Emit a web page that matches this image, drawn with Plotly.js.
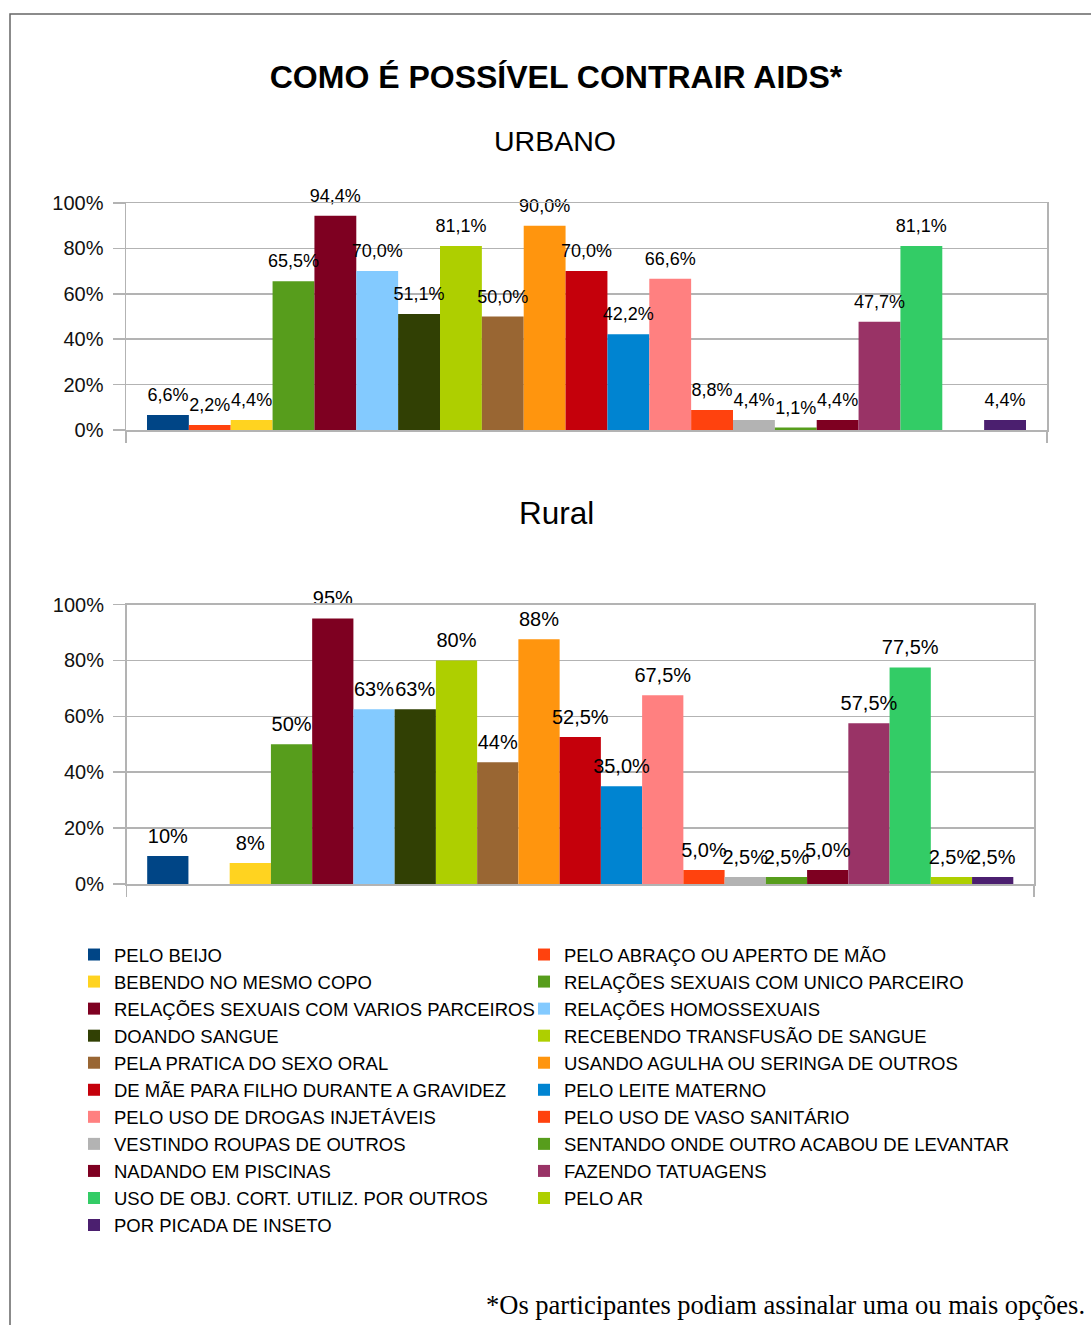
<!DOCTYPE html>
<html>
<head>
<meta charset="utf-8">
<script src="https://cdn.plot.ly/plotly-3.0.1.min.js"></script>
<style>html,body{margin:0;padding:0;background:#fff;}</style>
</head>
<body>
<div id="chart" style="width:1091px;height:1325px;"></div>
<script>
// ---------- data ----------
const categories = [
  'PELO BEIJO',
  'PELO ABRAÇO OU APERTO DE MÃO',
  'BEBENDO NO MESMO COPO',
  'RELAÇÕES SEXUAIS COM UNICO PARCEIRO',
  'RELAÇÕES SEXUAIS COM VARIOS PARCEIROS',
  'RELAÇÕES HOMOSSEXUAIS',
  'DOANDO SANGUE',
  'RECEBENDO TRANSFUSÃO DE SANGUE',
  'PELA PRATICA DO SEXO ORAL',
  'USANDO AGULHA OU SERINGA DE OUTROS',
  'DE MÃE PARA FILHO DURANTE A GRAVIDEZ',
  'PELO LEITE MATERNO',
  'PELO USO DE DROGAS INJETÁVEIS',
  'PELO USO DE VASO SANITÁRIO',
  'VESTINDO ROUPAS DE OUTROS',
  'SENTANDO ONDE OUTRO ACABOU DE LEVANTAR',
  'NADANDO EM PISCINAS',
  'FAZENDO TATUAGENS',
  'USO DE OBJ. CORT. UTILIZ. POR OUTROS',
  'PELO AR',
  'POR PICADA DE INSETO'
];
const colors = [
  '#004586', '#ff420e', '#ffd320', '#579d1c', '#7e0021', '#83caff', '#314004',
  '#aecf00', '#996633', '#ff950e', '#c5000b', '#0084d1', '#ff8080', '#ff420e',
  '#b3b3b3', '#579d1c', '#7e0021', '#993366', '#33cc66', '#aecf00', '#4b1f6f'
];
const urbanValues = [6.6, 2.2, 4.4, 65.5, 94.4, 70.0, 51.1, 81.1, 50.0, 90.0, 70.0, 42.2, 66.6, 8.8, 4.4, 1.1, 4.4, 47.7, 81.1, null, 4.4];
const urbanLabels = ['6,6%', '2,2%', '4,4%', '65,5%', '94,4%', '70,0%', '51,1%', '81,1%', '50,0%', '90,0%', '70,0%', '42,2%', '66,6%', '8,8%', '4,4%', '1,1%', '4,4%', '47,7%', '81,1%', '', '4,4%'];
const ruralValues = [10, null, 7.5, 50, 95, 62.5, 62.5, 80, 43.6, 87.6, 52.6, 35.0, 67.5, 5.0, 2.5, 2.5, 5.0, 57.5, 77.5, 2.5, 2.5];
const ruralLabels = ['10%', '', '8%', '50%', '95%', '63%', '63%', '80%', '44%', '88%', '52,5%', '35,0%', '67,5%', '5,0%', '2,5%', '2,5%', '5,0%', '57,5%', '77,5%', '2,5%', '2,5%'];
const urbanGroup = ['URBANO'];
const ruralGroup = ['Rural'];
const yTickVals = [0, 20, 40, 60, 80, 100];
const yTickText = ['0%', '20%', '40%', '60%', '80%', '100%'];

// ---------- helpers (pixel -> paper fraction) ----------
const W = 1091, H = 1325;
const px = v => v / W;
const py = v => 1 - v / H;
const FONT = 'Liberation Sans, Arial, sans-serif';

const traces = [];
// bars (urban carries the legend; two legend columns)
categories.forEach((name, i) => {
  traces.push({
    type: 'bar', name: name, x: urbanGroup, y: [urbanValues[i]],
    marker: {color: colors[i]}, xaxis: 'x', yaxis: 'y',
    legend: (i % 2 === 0) ? 'legend' : 'legend2',
    showlegend: true, hoverinfo: 'skip'
  });
});
categories.forEach((name, i) => {
  traces.push({
    type: 'bar', name: name, x: ruralGroup, y: [ruralValues[i]],
    marker: {color: colors[i]}, xaxis: 'x2', yaxis: 'y2',
    showlegend: false, hoverinfo: 'skip'
  });
});
// value labels, grouped like the bars
categories.forEach((name, i) => {
  traces.push({
    type: 'scatter', mode: 'markers+text', name: name, x: urbanGroup,
    y: [urbanValues[i] === null ? 0 : urbanValues[i]], text: [urbanLabels[i]],
    textposition: 'top center', textfont: {family: FONT, size: 18, color: '#000'},
    marker: {size: 13.6, opacity: 0}, cliponaxis: false,
    xaxis: 'x', yaxis: 'y', showlegend: false, hoverinfo: 'skip'
  });
});
categories.forEach((name, i) => {
  traces.push({
    type: 'scatter', mode: 'markers+text', name: name, x: ruralGroup,
    y: [ruralValues[i] === null ? 0 : ruralValues[i]], text: [ruralLabels[i]],
    textposition: 'top center', textfont: {family: FONT, size: 20, color: '#000'},
    marker: {size: 11.2, opacity: 0}, cliponaxis: false,
    xaxis: 'x2', yaxis: 'y2', showlegend: false, hoverinfo: 'skip'
  });
});

const xAxisStyle = {
  type: 'category', showticklabels: false, showline: true, linecolor: '#b3b3b3',
  linewidth: 1.5, mirror: true, ticks: 'outside', tickson: 'boundaries', ticklen: 11,
  tickcolor: '#b3b3b3', tickwidth: 1.5, showgrid: false, zeroline: false, fixedrange: true
};
const yAxisStyle = {
  range: [0, 100], tickmode: 'array', tickvals: yTickVals, ticktext: yTickText,
  showgrid: true, gridcolor: '#b3b3b3', gridwidth: 1.5, showline: true, linecolor: '#b3b3b3',
  linewidth: 1.5, mirror: true, ticks: 'outside', ticklen: 12, tickcolor: '#b3b3b3',
  tickwidth: 1.5, zeroline: false, fixedrange: true, ticklabelstandoff: 5,
  tickfont: {family: FONT, size: 20, color: '#111'}
};
const legendStyle = {
  orientation: 'v', xanchor: 'left', y: py(936), yanchor: 'top',
  traceorder: 'normal', tracegroupgap: 0, bgcolor: 'rgba(0,0,0,0)', borderwidth: 0,
  font: {family: FONT, size: 18.5, color: '#000'}
};

const layout = {
  width: W, height: H,
  margin: {l: 0, r: 0, t: 0, b: 0, pad: 0},
  paper_bgcolor: '#ffffff', plot_bgcolor: '#ffffff',
  font: {family: FONT, color: '#000', size: 18},
  title: {
    text: '<b>COMO É POSSÍVEL CONTRAIR AIDS*</b>',
    font: {family: FONT, size: 32, color: '#000'},
    x: px(556), xanchor: 'center', xref: 'paper',
    y: py(77), yanchor: 'middle', yref: 'paper'
  },
  barmode: 'group', bargap: 0.0456, bargroupgap: 0,
  scattermode: 'group', scattergap: 0.0456,
  hovermode: false,
  showlegend: true,
  legend: Object.assign({x: px(74)}, legendStyle),
  legend2: Object.assign({x: px(524)}, legendStyle),
  xaxis: Object.assign({domain: [px(126), px(1047)], anchor: 'y'}, xAxisStyle),
  yaxis: Object.assign({domain: [py(430), py(203)], anchor: 'x'}, yAxisStyle),
  xaxis2: Object.assign({domain: [px(126.5), px(1034)], anchor: 'y2'}, xAxisStyle),
  yaxis2: Object.assign({domain: [py(884), py(604.5)], anchor: 'x2'}, yAxisStyle),
  annotations: [
    {text: 'URBANO', xref: 'paper', yref: 'paper', x: px(555), y: py(141),
     xanchor: 'center', yanchor: 'middle', showarrow: false,
     font: {family: FONT, size: 28.5, color: '#000'}},
    {text: 'Rural', xref: 'paper', yref: 'paper', x: px(556), y: py(513),
     xanchor: 'center', yanchor: 'middle', showarrow: false,
     font: {family: FONT, size: 31.5, color: '#000'}},
    {text: '*Os participantes podiam assinalar uma ou mais opções.', xref: 'paper', yref: 'paper',
     x: px(1087), y: py(1305), xanchor: 'right', yanchor: 'middle', showarrow: false,
     font: {family: 'Liberation Serif, Times New Roman, serif', size: 26.5, color: '#000'}}
  ],
  shapes: [
    {type: 'rect', xref: 'paper', yref: 'paper', x0: px(10), x1: px(1110),
     y0: py(1345), y1: py(14), line: {color: '#666666', width: 1.5}, fillcolor: 'rgba(0,0,0,0)', layer: 'below'}
  ]
};

Plotly.newPlot('chart', traces, layout, {displayModeBar: false, staticPlot: true});
</script>
</body>
</html>
